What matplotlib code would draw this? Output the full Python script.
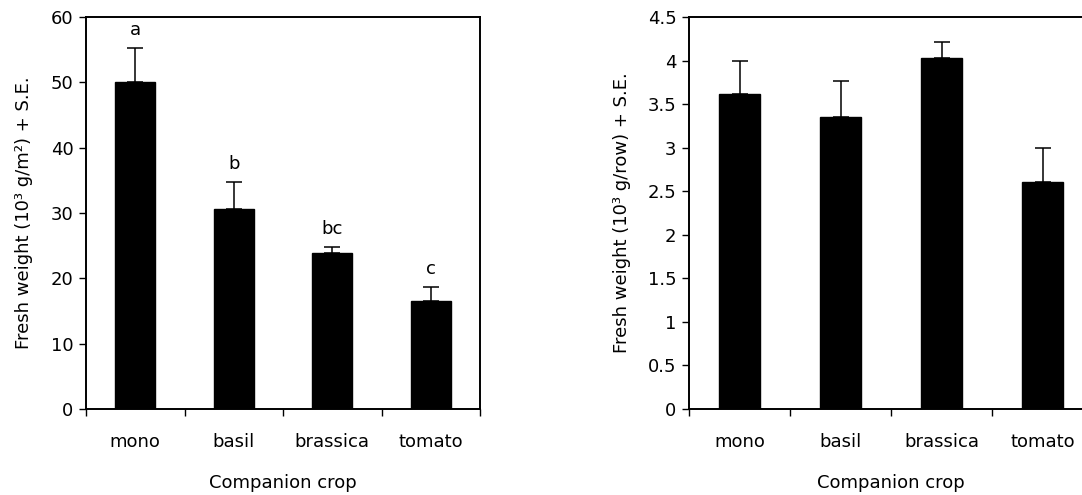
import matplotlib
matplotlib.use("Agg")
import matplotlib.pyplot as plt
from matplotlib.ticker import FixedLocator, FuncFormatter, NullFormatter

plt.rcParams['font.family'] = ['DejaVu Sans']

categories = ["mono", "basil", "brassica", "tomato"]
left_means = [50.0, 30.6, 23.9, 16.6]
left_se = [5.3, 4.2, 0.85, 2.1]
left_letters = ["a", "b", "bc", "c"]
right_means = [3.62, 3.35, 4.03, 2.61]
right_se = [0.37, 0.41, 0.18, 0.39]

left_ylabel = "Fresh weight (10³ g/m²) + S.E."
right_ylabel = "Fresh weight (10³ g/row) + S.E."
xlabel = "Companion crop"

W, H = 1082, 495
fig = plt.figure(figsize=(W / 100, H / 100), dpi=100)

def px_axes(x0, x1, y0, y1):
    return fig.add_axes([x0 / W, 1 - y1 / H, (x1 - x0) / W, (y1 - y0) / H])

ax1 = px_axes(86, 480, 17, 409)
ax2 = px_axes(689, 1093, 17, 409)

FS = 13

def style(ax, ymax, ystep, ylabel, label_x):
    n = len(categories)
    ax.set_xlim(-0.5, n - 0.5)
    ax.set_ylim(0, ymax)
    yt = [i * ystep for i in range(int(round(ymax / ystep)) + 1)]
    ax.set_yticks(yt)
    ax.yaxis.set_major_formatter(FuncFormatter(lambda v, p: "%g" % v))
    ax.set_xticks(range(n))
    ax.set_xticklabels(categories)
    ax.xaxis.set_minor_locator(FixedLocator([i - 0.5 for i in range(n + 1)]))
    ax.xaxis.set_minor_formatter(NullFormatter())
    ax.tick_params(axis='x', which='major', length=0, pad=17, labelsize=FS)
    ax.tick_params(axis='x', which='minor', length=5, width=1.0, direction='out')
    ax.tick_params(axis='y', which='major', length=5, width=1.0, direction='out', pad=4, labelsize=FS)
    for s in ax.spines.values():
        s.set_linewidth(1.4)
    ax.set_ylabel(ylabel, fontsize=FS)
    ax.yaxis.set_label_coords(label_x, 0.5)
    ax.set_xlabel(xlabel, fontsize=FS, labelpad=17)

def bars(ax, means, se):
    ax.bar(range(len(means)), means, width=0.41, color='black', edgecolor='black', zorder=2)
    ax.errorbar(range(len(means)), means, yerr=[[0] * len(se), se], fmt='none',
                ecolor='black', elinewidth=1.1, capsize=5.5, capthick=1.1, zorder=3)

bars(ax1, left_means, left_se)
style(ax1, 60, 10, left_ylabel, -0.135)
for i, (m, s, t) in enumerate(zip(left_means, left_se, left_letters)):
    ax1.text(i, m + s + 2.0, t, ha='center', va='baseline', fontsize=FS)

bars(ax2, right_means, right_se)
style(ax2, 4.5, 0.5, right_ylabel, -0.144)

fig.savefig("out.png", dpi=100)
